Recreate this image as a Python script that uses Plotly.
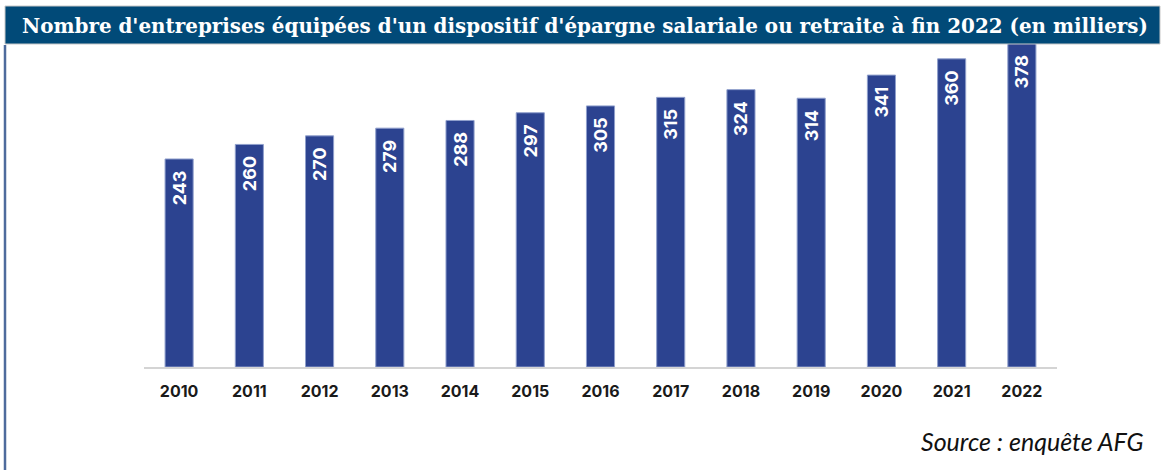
import plotly.graph_objects as go

years = ["2010", "2011", "2012", "2013", "2014", "2015", "2016", "2017", "2018", "2019", "2020", "2021", "2022"]
values = [243, 260, 270, 279, 288, 297, 305, 315, 324, 314, 341, 360, 378]

title_text = "Nombre d'entreprises équipées d'un dispositif d'épargne salariale ou retraite à fin 2022 (en milliers)"
source_text = "Source : enquête AFG"

W, H = 1165, 470
L, R, T, B = 144, 108, 40, 103
pw, ph = W - L - R, H - T - B

def px(x):
    return (x - L) / pw

def py(y):
    return (H - B - y) / ph

fig = go.Figure()
fig.add_trace(go.Bar(
    x=years, y=values,
    marker=dict(color="#2c4390", line=dict(color="#8f9fcc", width=1)),
    text=[str(v) + "\u00a0\u00a0" for v in values],
    textposition="inside",
    insidetextanchor="end",
    textangle=-90,
    insidetextfont=dict(family="Inter, Lato, sans-serif", size=18, color="white", weight=700),
    cliponaxis=True,
    hoverinfo="skip",
))

fig.update_layout(
    width=W, height=H,
    margin=dict(l=L, r=R, t=T, b=B),
    paper_bgcolor="white", plot_bgcolor="white",
    bargap=0.6,
    showlegend=False,
    xaxis=dict(
        showgrid=False, showline=True, linecolor="#d4d4d4", linewidth=1.5,
        ticks="", tickfont=dict(family="Inter, Lato, sans-serif", size=16, color="#1a1a1a", weight=700),
        ticklabelstandoff=9,
    ),
    yaxis=dict(range=[0, 382], visible=False, showgrid=False, zeroline=False),
    shapes=[
        dict(type="rect", xref="paper", yref="paper",
             x0=px(5), x1=px(1160), y0=py(44), y1=py(6),
             fillcolor="#014a78", line=dict(color="#c8c8c8", width=1), layer="above"),
        dict(type="line", xref="paper", yref="paper",
             x0=px(5), x1=px(5), y0=py(45), y1=py(470),
             line=dict(color="#4e6b9c", width=2.5), layer="above"),
    ],
    annotations=[
        dict(text=title_text, xref="paper", yref="paper", x=px(20), y=py(26),
             xanchor="left", yanchor="middle", showarrow=False,
             font=dict(family="DejaVu Serif, Liberation Serif, serif", size=19.9, color="white", weight=700)),
        dict(text=source_text, xref="paper", yref="paper", x=px(1146), y=py(441),
             xanchor="right", yanchor="middle", showarrow=False,
             font=dict(family="Lato, Open Sans, sans-serif", size=25, color="#111111", style="italic")),
    ],
)

fig.write_html("out.html", config={"displayModeBar": False},
               post_script="document.body.style.margin='0';")
